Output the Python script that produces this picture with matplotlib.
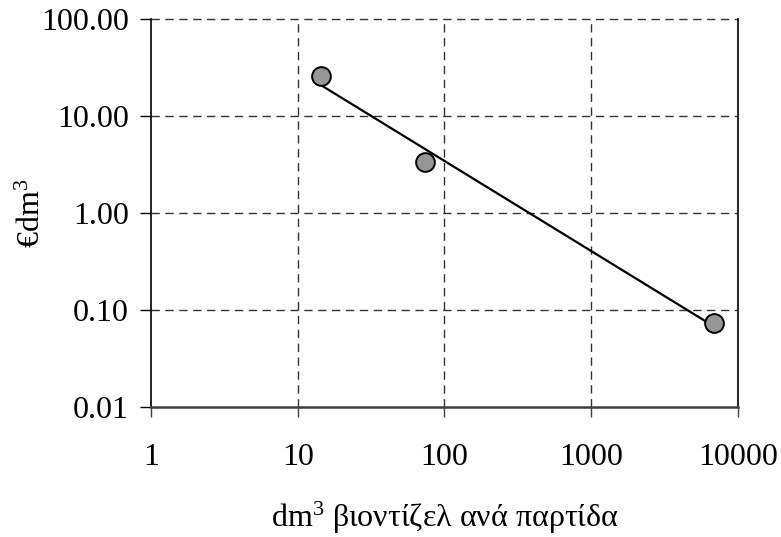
# libraries
import matplotlib
matplotlib.use("Agg")
import matplotlib.pyplot as plt
from matplotlib.ticker import FixedLocator, FixedFormatter, NullLocator
import numpy as np

# Data
batch_dm3 = [14.4, 73.6, 6900.0]
cost_per_dm3 = [26.0, 3.38, 0.073]

x_ticks = [1, 10, 100, 1000, 10000]
x_tick_labels = ["1", "10", "100", "1000", "10000"]
y_ticks = [0.01, 0.1, 1, 10, 100]
y_tick_labels = ["0.01", "0.10", "1.00", "10.00", "100.00"]

x_title = "dm$^{3}$ βιοντίζελ ανά παρτίδα"
y_title = "€dm$^{3}$"

# Fonts: Times-like
plt.rcParams["font.family"] = ["Liberation Serif", "DejaVu Serif"]
plt.rcParams["mathtext.fontset"] = "custom"
plt.rcParams["mathtext.rm"] = "Liberation Serif"
plt.rcParams["mathtext.it"] = "Liberation Serif:italic"
plt.rcParams["mathtext.bf"] = "Liberation Serif:bold"

# Power trendline (least squares in log space, like a spreadsheet power fit)
lx = np.log10(batch_dm3)
ly = np.log10(cost_per_dm3)
slope, intercept = np.polyfit(lx, ly, 1)
trend_x = np.geomspace(min(batch_dm3), max(batch_dm3), 50)
trend_y = 10 ** (intercept + slope * np.log10(trend_x))

# Set up figure
fig = plt.figure(figsize=(7.81, 5.37), dpi=100)
ax = fig.add_axes([0.1933, 0.2421, 0.7516, 0.7225])
ax.set_xscale("log")
ax.set_yscale("log")
ax.set_xlim(1, 10000)
ax.set_ylim(0.01, 100)

# Gridlines
for gx in x_ticks[1:-1]:
    ax.axvline(gx, color="#333333", lw=1.0, ls=(0, (6, 4)), zorder=1)
for gy in y_ticks[1:]:
    ax.axhline(gy, color="#333333", lw=1.0, ls=(0, (6, 4)), zorder=1, clip_on=False)

ax.plot(trend_x, trend_y, color="black", lw=1.6, zorder=2)
ax.plot(batch_dm3, cost_per_dm3, "o", ms=13.5, mfc="#969696", mec="black", mew=1.4, zorder=3)

# Axes styling
ax.spines["top"].set_visible(False)
ax.spines["left"].set_color("black")
ax.spines["left"].set_linewidth(1.2)
ax.spines["right"].set_color("black")
ax.spines["right"].set_linewidth(1.2)
ax.spines["bottom"].set_color("#404040")
ax.spines["bottom"].set_linewidth(1.8)

ax.xaxis.set_major_locator(FixedLocator(x_ticks))
ax.xaxis.set_major_formatter(FixedFormatter(x_tick_labels))
ax.yaxis.set_major_locator(FixedLocator(y_ticks))
ax.yaxis.set_major_formatter(FixedFormatter(y_tick_labels))
ax.xaxis.set_minor_locator(NullLocator())
ax.yaxis.set_minor_locator(NullLocator())

ax.tick_params(axis="x", direction="out", length=7, width=1, color="#404040",
               pad=19, labelsize=23)
ax.tick_params(axis="y", direction="out", length=8, width=1, color="black",
               pad=8, labelsize=23)

ax.set_xlabel(x_title, fontsize=23, labelpad=20)
ax.set_ylabel(y_title, fontsize=23)
ax.yaxis.set_label_coords(-0.177, 0.5)

fig.savefig("out.png", dpi=100)
